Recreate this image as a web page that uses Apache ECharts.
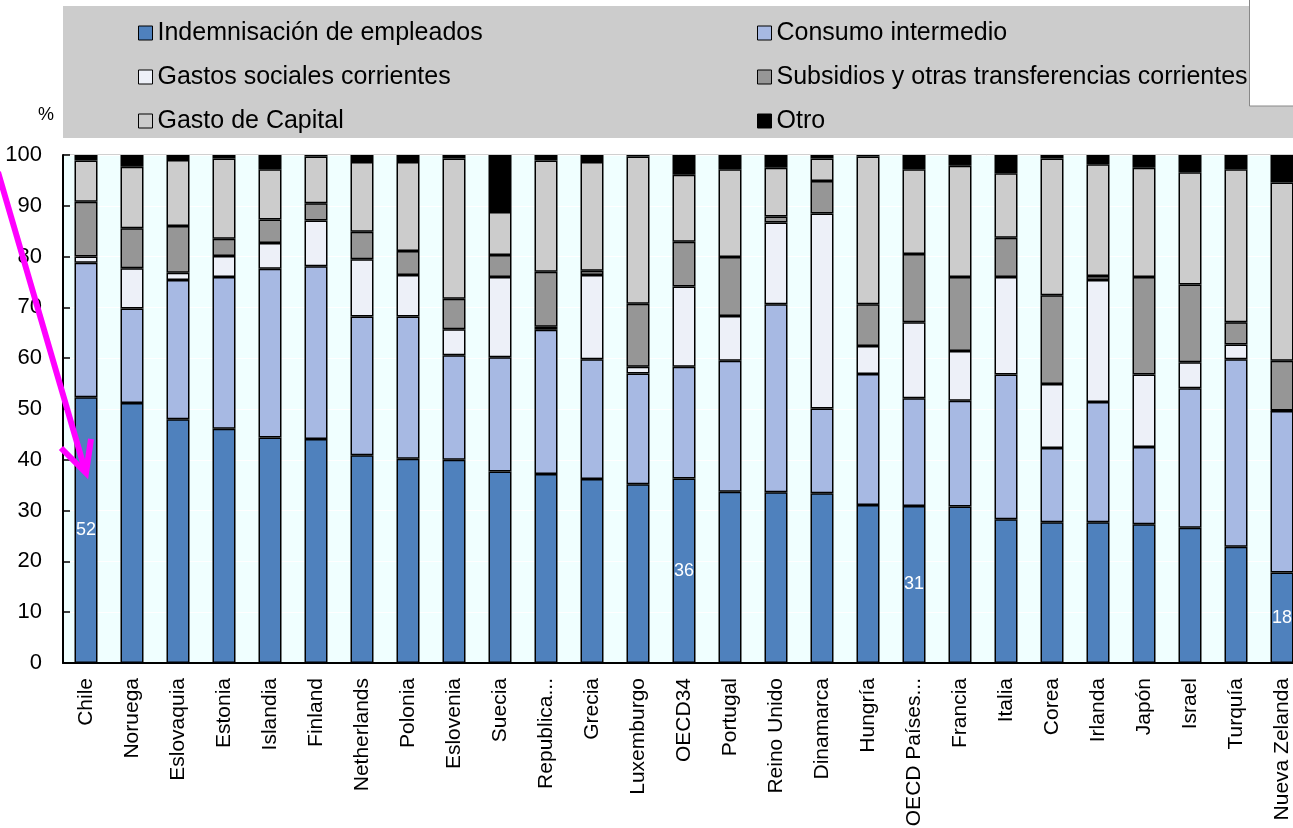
<!DOCTYPE html>
<html>
<head>
    <meta charset="utf-8">
    <title>Gasto público por función económica</title>
    <script src="https://cdn.jsdelivr.net/npm/echarts@6.0.0/dist/echarts.min.js"></script>
    <style>
        html, body { margin: 0; padding: 0; background: #fff; }
        #grafico { width: 1293px; height: 828px; }
    </style>
</head>
<body>
    <div id="grafico"></div>

    <script>
        // Datos (% del gasto total)
        const paises = ['Chile', 'Noruega', 'Eslovaquia', 'Estonia', 'Islandia', 'Finland', 'Netherlands',
            'Polonia', 'Eslovenia', 'Suecia', 'Republica...', 'Grecia', 'Luxemburgo', 'OECD34', 'Portugal',
            'Reino Unido', 'Dinamarca', 'Hungría', 'OECD Países...', 'Francia', 'Italia', 'Corea', 'Irlanda',
            'Japón', 'Israel', 'Turquía', 'Nueva Zelanda'];

        const indemnizacion = [52.3, 51.2, 48.0, 46.1, 44.4, 44.1, 40.9, 40.2, 40.0, 37.7, 37.2, 36.2, 35.2,
            36.3, 33.7, 33.6, 33.4, 31.1, 30.9, 30.8, 28.3, 27.7, 27.7, 27.3, 26.6, 22.9, 17.8];
        const consumo = [26.5, 18.6, 27.4, 29.9, 33.2, 34.0, 27.3, 28.0, 20.6, 22.5, 28.4, 23.6, 21.8,
            22.0, 25.8, 37.0, 16.7, 25.8, 21.2, 20.8, 28.5, 14.6, 23.7, 15.2, 27.5, 36.9, 31.8];
        const gastosSociales = [1.2, 7.9, 1.4, 4.1, 5.1, 9.0, 11.3, 8.2, 5.1, 15.8, 0.6, 16.6, 1.3,
            15.8, 8.8, 16.1, 38.4, 5.5, 15.0, 9.8, 19.2, 12.6, 24.0, 14.3, 5.1, 2.9, 0.1];
        const subsidios = [10.8, 7.9, 9.2, 3.4, 4.6, 3.4, 5.4, 4.7, 6.0, 4.3, 10.8, 0.8, 12.4,
            8.8, 11.6, 1.2, 6.4, 8.2, 13.4, 14.6, 7.7, 17.5, 0.8, 19.2, 15.3, 4.4, 9.8];
        const capital = [8.1, 12.1, 13.0, 15.8, 9.9, 9.2, 13.7, 17.5, 27.6, 8.5, 21.9, 21.4, 29.0,
            13.2, 17.3, 9.6, 4.4, 29.1, 16.7, 21.9, 12.7, 26.9, 22.0, 21.5, 22.1, 30.1, 35.1];
        const otro = [1.1, 2.3, 1.0, 0.7, 2.8, 0.3, 1.4, 1.4, 0.7, 11.2, 1.1, 1.4, 0.3,
            3.9, 2.8, 2.5, 0.7, 0.3, 2.8, 2.1, 3.6, 0.7, 1.8, 2.5, 3.4, 2.8, 5.4];

        // Barras con la cifra de indemnización marcada
        const etiquetados = ['Chile', 'OECD34', 'OECD Países...', 'Nueva Zelanda'];

        const fuente = 'Liberation Sans, Arial, sans-serif';

        const chart = echarts.init(document.getElementById('grafico'));

        function serie(nombre, datos, color, conEtiqueta) {
            return {
                name: nombre,
                type: 'bar',
                stack: 'total',
                barWidth: 23,
                data: datos,
                itemStyle: { color: color, borderColor: '#000', borderWidth: 1.5 },
                label: {
                    show: !!conEtiqueta,
                    position: 'inside',
                    color: '#fff',
                    fontFamily: fuente,
                    fontSize: 18,
                    formatter: p => etiquetados.includes(p.name) ? Math.round(p.value) : ''
                },
                emphasis: { disabled: true }
            };
        }

        const estiloLeyenda = {
            orient: 'vertical',
            top: 13,
            itemWidth: 14,
            itemHeight: 14,
            itemGap: 14,
            icon: 'rect',
            selectedMode: false,
            itemStyle: { borderColor: '#000', borderWidth: 1 },
            textStyle: { fontFamily: fuente, fontSize: 25, lineHeight: 30, color: '#000' }
        };

        chart.setOption({
            animation: false,
            backgroundColor: '#fff',
            graphic: [
                // caja gris de la leyenda
                { type: 'rect', z: -10, shape: { x: 63, y: 6, width: 1240, height: 132 },
                  style: { fill: '#CCCCCC' } },
                // recuadro blanco arriba a la derecha
                { type: 'rect', z: -5, shape: { x: 1249.5, y: -2, width: 60, height: 108 },
                  style: { fill: '#fff', stroke: '#888', lineWidth: 1 } },
                { type: 'text', left: 38, top: 106,
                  style: { text: '%', fontFamily: fuente, fontSize: 18, fill: '#000' } },
                // flecha magenta
                { type: 'polyline', z: 100, shape: { points: [[-2, 172], [85, 470]] },
                  style: { stroke: '#FF00FF', lineWidth: 6, fill: null } },
                { type: 'polyline', z: 100, shape: { points: [[61, 448], [86, 473], [91, 439]] },
                  style: { stroke: '#FF00FF', lineWidth: 6, fill: null, lineJoin: 'miter' } }
            ],
            legend: [
                Object.assign({ left: 133, data: ['Indemnisación de empleados', 'Gastos sociales corrientes', 'Gasto de Capital'] }, estiloLeyenda),
                Object.assign({ left: 752, data: ['Consumo intermedio', 'Subsidios y otras transferencias corrientes', 'Otro'] }, estiloLeyenda)
            ],
            grid: {
                left: 63,
                top: 155,
                width: 1242,
                height: 508,
                outerBoundsMode: 'none',
                show: true,
                backgroundColor: '#F0FFFF',
                borderColor: '#A0A0A0',
                borderWidth: 1
            },
            xAxis: {
                type: 'category',
                data: paises,
                axisLine: { lineStyle: { color: '#000', width: 2 } },
                axisTick: { inside: true, length: 7, lineStyle: { color: '#000', width: 1.5 } },
                axisLabel: {
                    rotate: 90,
                    margin: 15,
                    interval: 0,
                    fontFamily: fuente,
                    fontSize: 21,
                    color: '#000'
                }
            },
            yAxis: {
                type: 'value',
                min: 0,
                max: 100,
                interval: 10,
                axisLine: { show: true, lineStyle: { color: '#000', width: 2 } },
                axisTick: { show: true, inside: true, length: 7, lineStyle: { color: '#000', width: 1.5 } },
                axisLabel: { margin: 21, fontFamily: fuente, fontSize: 22, color: '#000' },
                splitLine: { show: true, lineStyle: { color: '#ffffff', width: 1 } }
            },
            series: [
                serie('Indemnisación de empleados', indemnizacion, '#4F81BD', true),
                serie('Consumo intermedio', consumo, '#A7B9E3'),
                serie('Gastos sociales corrientes', gastosSociales, '#EDF0F8'),
                serie('Subsidios y otras transferencias corrientes', subsidios, '#969696'),
                serie('Gasto de Capital', capital, '#CCCCCC'),
                serie('Otro', otro, '#000000')
            ]
        });
    </script>
</body>
</html>
